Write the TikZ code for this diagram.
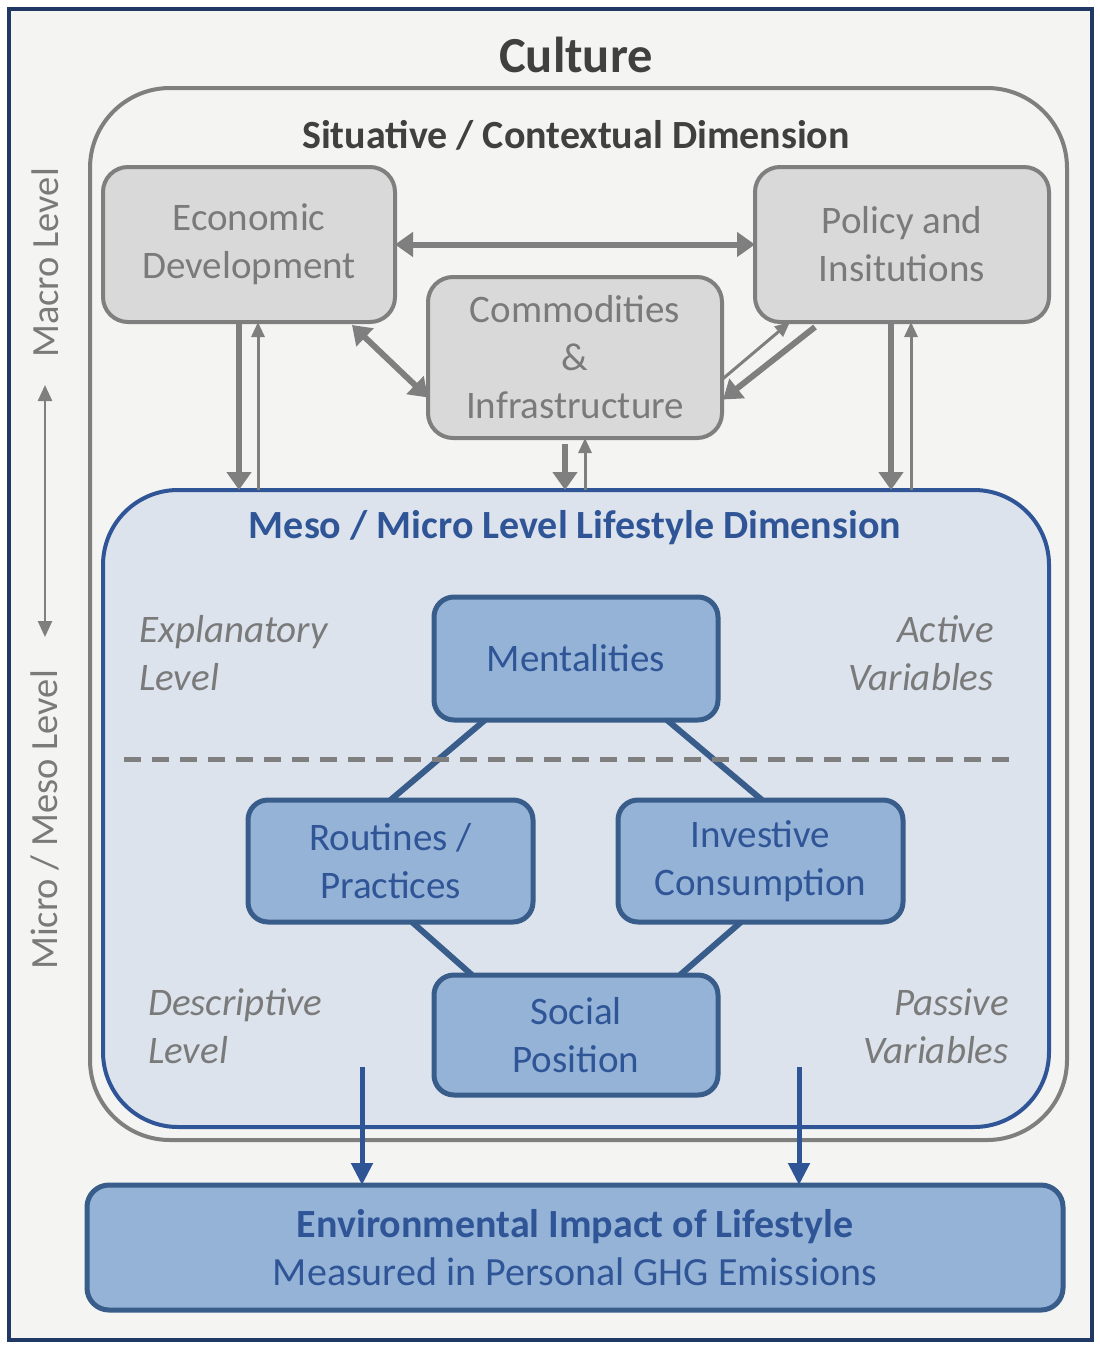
\documentclass[tikz,border=0pt]{standalone}
\usepackage{fontspec}
\setmainfont{Carlito}
\usetikzlibrary{arrows.meta,calc}
\definecolor{framecol}{HTML}{1F3864}
\definecolor{bgcol}{HTML}{F4F4F2}
\definecolor{darktext}{HTML}{404040}
\definecolor{greytext}{HTML}{7A7A7A}
\definecolor{greyline}{HTML}{7F7F7F}
\definecolor{greyfill}{HTML}{D9D9D9}
\definecolor{bluetext}{HTML}{2F5597}
\definecolor{blueborder}{HTML}{385D8A}
\definecolor{bluefill}{HTML}{95B3D7}
\definecolor{mesofill}{HTML}{DCE3ED}
\definecolor{mesoborder}{HTML}{2F5597}
\begin{document}
\begin{tikzpicture}[x=1pt,y=-1pt,
  greybox/.style={draw=greyline, fill=greyfill, line width=4pt, rounded corners=25pt,
    text=greytext, font=\fontsize{39}{48}\selectfont, align=center, inner sep=0pt, outer sep=0pt},
  bluebox/.style={draw=blueborder, fill=bluefill, line width=5pt, rounded corners=20pt,
    text=bluetext, font=\fontsize{39}{48}\selectfont, align=center, inner sep=0pt, outer sep=0pt},
  italiclabel/.style={text=greytext, font=\fontsize{39}{48}\selectfont\itshape, inner sep=0pt},
  sidelabel/.style={text=greytext, font=\fontsize{38.5}{46}\selectfont, rotate=90, inner sep=0pt},
  thickarr/.style={draw=greyline, line width=6pt, -{Triangle[length=18pt,width=24pt]}},
  thinarr/.style={draw=greyline, line width=3pt, -{Triangle[length=15pt,width=13pt]}},
  dblarr/.style={draw=greyline, line width=6pt, {Triangle[length=18pt,width=24pt]}-{Triangle[length=18pt,width=24pt]}},
  linkline/.style={draw=blueborder, line width=6pt},
  bluearr/.style={draw=bluetext, line width=5pt, -{Triangle[length=22pt,width=21pt]}},
  axisarr/.style={draw=greyline, line width=2.5pt, {Triangle[length=16pt,width=14pt]}-{Triangle[length=16pt,width=14pt]}}
]
\useasboundingbox (0,0) rectangle (1100,1349);
\fill[white] (0,0) rectangle (1100,1349);
% outer frame
\node[draw=framecol, fill=bgcol, line width=4pt, minimum width=1083pt, minimum height=1331pt, inner sep=0pt, outer sep=0pt] (frame) at (550.5,674.5) {};
\node[text=darktext, font=\fontsize{50.5}{60}\selectfont\bfseries] (culture) at (576,55) {Culture};
% situative container
\node[draw=greyline, line width=4pt, rounded corners=80pt, minimum width=977pt, minimum height=1052pt, inner sep=0pt, outer sep=0pt] (sit) at (578.5,614) {};
\node[text=darktext, font=\fontsize{40}{48}\selectfont\bfseries] (sittitle) at (576,135) {Situative / Contextual Dimension};
% meso container
\node[draw=mesoborder, fill=mesofill, line width=4pt, rounded corners=75pt, minimum width=946pt, minimum height=637pt, inner sep=0pt, outer sep=0pt] (meso) at (576,808.5) {};
\node[text=bluetext, font=\fontsize{40}{48}\selectfont\bfseries] (mesotitle) at (575,528) {Meso / Micro Level Lifestyle Dimension};
% grey boxes
\node[greybox, minimum width=292pt, minimum height=155pt] (econ) at (249,244.5) {Economic\\Development};
\node[greybox, minimum width=294pt, minimum height=155pt] (policy) at (902,244.5) {Policy and\\Insitutions};
\node[greybox, minimum width=294pt, minimum height=161pt] (comm) at (575,357.5) {Commodities\\\&\\Infrastructure};
% grey arrows
\draw[dblarr] (econ.east) -- (policy.west);
\draw[dblarr] ([xshift=-43pt,yshift=-3pt]econ.south east) -- ([yshift=-40pt]comm.west);
\draw[thinarr] ([yshift=-22pt]comm.east) -- ([xshift=-112pt]policy.south);
\draw[thickarr] ([xshift=-87pt,yshift=-5pt]policy.south) -- ([xshift=1pt,yshift=-42pt]comm.east);
\draw[thickarr] ([xshift=-10pt]econ.south) -- ([xshift=-10pt]econ.south |- meso.north);
\draw[thinarr] ([xshift=9pt]econ.south |- meso.north) -- ([xshift=9pt]econ.south);
\draw[thickarr] ([xshift=-10pt,yshift=-6pt]comm.south) -- ([xshift=-10pt]comm.south |- meso.north);
\draw[thinarr] ([xshift=10pt]comm.south |- meso.north) -- ([xshift=10pt]comm.south);
\draw[thickarr] ([xshift=-11pt]policy.south) -- ([xshift=-11pt]policy.south |- meso.north);
\draw[thinarr] ([xshift=9pt]policy.south |- meso.north) -- ([xshift=9pt]policy.south);
% blue boxes
\node[bluebox, minimum width=284pt, minimum height=123pt] (mental) at (576,658.5) {Mentalities};
\node[bluebox, minimum width=285pt, minimum height=122pt] (routines) at (390.5,861) {Routines /\\Practices};
\node[bluebox, minimum width=285pt, minimum height=122pt] (investive) at (760.5,861) {Investive\vphantom{/}\\Consumption};
\node[bluebox, minimum width=284pt, minimum height=120pt] (social) at (576,1035) {Social\\Position};
% links
\draw[linkline] ([xshift=-91pt]mental.south) -- (routines.north);
\draw[linkline] ([xshift=91pt]mental.south) -- ([xshift=1.5pt]investive.north);
\draw[linkline] ([xshift=21.5pt]routines.south) -- ([xshift=-104pt]social.north);
\draw[linkline] ([xshift=-19.5pt]investive.south) -- ([xshift=104pt]social.north);
% dashed separator
\coordinate (dashL) at (124,759);
\coordinate (dashR) at (1016,759);
\draw[greyline, line width=5pt, dash pattern=on 17pt off 11pt] (dashL) -- (dashR);
% italic labels
\node[italiclabel, anchor=west, align=left] (expl) at (139,653) {Explanatory\\Level};
\node[italiclabel, anchor=east, align=right] (active) at (994,653) {Active\\Variables};
\node[italiclabel, anchor=west, align=left] (descr) at (148,1026) {Descriptive\\Level};
\node[italiclabel, anchor=east, align=right] (passive) at (1009,1026) {Passive\\Variables};
% environmental box
\node[bluebox, rounded corners=22pt, minimum width=976pt, minimum height=125pt, font=\fontsize{40}{48}\selectfont] (env) at (575,1247.5)
  {{\bfseries Environmental Impact of Lifestyle}\\Measured in Personal GHG Emissions};
\coordinate (b1) at (362,1067);
\coordinate (b2) at (799,1067);
\draw[bluearr] (b1) -- (b1 |- env.north);
\draw[bluearr] (b2) -- (b2 |- env.north);
% side labels
\node[sidelabel] (macro) at (45,263) {Macro Level};
\node[sidelabel] (micro) at (45,820) {Micro / Meso Level};
\coordinate (ax1) at (45,385);
\coordinate (ax2) at (45,637);
\draw[axisarr] (ax1) -- (ax2);
\end{tikzpicture}
\end{document}
